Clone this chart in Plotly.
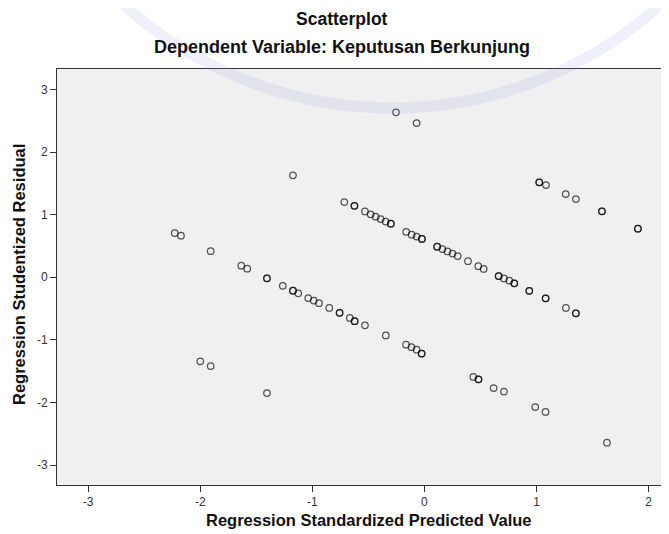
import plotly.graph_objects as go

# Regression Standardized Predicted Value (x) and Studentized Residual (y)
pred_upper = [-0.715, -0.625, -0.625, -0.531, -0.480, -0.435, -0.391, -0.346, -0.300, -0.300,
              -0.163, -0.114, -0.070, -0.023, -0.023, 0.113, 0.113, 0.160, 0.205, 0.250, 0.296,
              0.388, 0.480, 0.528, 0.662, 0.662, 0.709, 0.757, 0.801, 0.801, 0.935, 0.935,
              1.081, 1.081, 1.262, 1.351, 1.351]
resid_upper = [1.200, 1.140, 1.140, 1.050, 1.005, 0.966, 0.930, 0.890, 0.855, 0.855,
               0.725, 0.680, 0.650, 0.612, 0.612, 0.487, 0.487, 0.450, 0.412, 0.378, 0.338,
               0.257, 0.176, 0.133, 0.019, 0.019, -0.020, -0.055, -0.098, -0.098, -0.218, -0.218,
               -0.337, -0.337, -0.490, -0.577, -0.577]

pred_lower = [-2.228, -2.172, -1.907, -1.634, -1.581, -1.405, -1.405, -1.264, -1.173, -1.173,
              -1.126, -1.037, -0.988, -0.941, -0.849, -0.757, -0.757, -0.666, -0.623, -0.623,
              -0.531, -0.345, -0.164, -0.116, -0.070, -0.025, -0.025, 0.436, 0.482, 0.482,
              0.617, 0.709, 0.988, 1.080, 1.628]
resid_lower = [0.706, 0.663, 0.415, 0.184, 0.136, -0.018, -0.018, -0.138, -0.216, -0.216,
               -0.258, -0.332, -0.372, -0.414, -0.490, -0.568, -0.568, -0.650, -0.702, -0.702,
               -0.769, -0.930, -1.078, -1.118, -1.158, -1.220, -1.220, -1.592, -1.631, -1.631,
               -1.770, -1.826, -2.074, -2.151, -2.643]

pred_other = [-0.254, -0.070, -1.173, 1.024, 1.024, 1.084, 1.260, 1.351, 1.583, 1.583,
              1.904, 1.904, -2.000, -1.907, -1.405]
resid_other = [2.634, 2.463, 1.628, 1.516, 1.516, 1.473, 1.329, 1.249, 1.052, 1.052,
               0.775, 0.775, -1.344, -1.419, -1.850]

x_ticks = [-3, -2, -1, 0, 1, 2]
y_ticks = [-3, -2, -1, 0, 1, 2, 3]

title_text = "Scatterplot"
subtitle_text = "Dependent Variable: Keputusan Berkunjung"
x_title = "Regression Standardized Predicted Value"
y_title = "Regression Studentized Residual"

pred = pred_upper + pred_lower + pred_other
resid = resid_upper + resid_lower + resid_other

FONT = "Arial, Liberation Sans, sans-serif"

# page has an 8px body margin; figure coordinates = page coordinates - 8
L, T, B = 49, 61, 57
PW = 669 - L          # plot width in px (extends past the window edge)
PH = 534 - T - B      # plot height in px
X0 = 57               # page x of plot left edge
Y0 = 69               # page y of plot top edge


def px(page_x):
    return (page_x - X0) / PW


def py(page_y):
    return 1 - (page_y - Y0) / PH


fig = go.Figure()

# faint watermark ring (background seal of the source page)
cx, cy, R = 392, -292, 400
fig.add_shape(type="circle", xref="paper", yref="paper", layer="above",
              x0=px(cx - R), x1=px(cx + R), y0=py(cy + R), y1=py(cy - R),
              line=dict(color="rgba(140,140,225,0.13)", width=11),
              fillcolor="rgba(0,0,0,0)")

fig.add_trace(go.Scatter(
    x=pred, y=resid, mode="markers",
    marker=dict(symbol="circle-open", size=6.5, color="rgba(0,0,0,0.66)",
                line=dict(width=1.25, color="rgba(0,0,0,0.66)")),
    hoverinfo="x+y", showlegend=False,
))

fig.update_layout(
    width=669, height=534,
    margin=dict(l=L, r=0, t=T, b=B),
    paper_bgcolor="white",
    plot_bgcolor="#f0f0f0",
    font=dict(family=FONT, size=12, color="#333333"),
    showlegend=False,
)
fig.update_xaxes(
    range=[-3.278, -3.278 + PW / 112.1], tickvals=x_ticks, ticktext=[str(v) for v in x_ticks],
    showgrid=False, zeroline=False, showline=True, linecolor="#333333", linewidth=1,
    mirror=True, ticks="outside", ticklen=6, tickcolor="#333333", tickwidth=1,
    tickfont=dict(size=12, color="#333333", family=FONT),
)
fig.update_yaxes(
    range=[-3.319, 3.326], tickvals=y_ticks, ticktext=[str(v) for v in y_ticks],
    showgrid=False, zeroline=False, showline=True, linecolor="#333333", linewidth=1,
    mirror=False, ticks="outside", ticklen=6, tickcolor="#333333", tickwidth=1,
    tickfont=dict(size=12, color="#333333", family=FONT),
)

fig.add_annotation(text="<b>" + title_text + "</b>", xref="paper", yref="paper",
                   x=px(342), y=py(19), xanchor="center", yanchor="middle",
                   showarrow=False, font=dict(size=17.5, color="#111111", family=FONT))
fig.add_annotation(text="<b>" + subtitle_text + "</b>", xref="paper", yref="paper",
                   x=px(342), y=py(47), xanchor="center", yanchor="middle",
                   showarrow=False, font=dict(size=18, color="#111111", family=FONT))
fig.add_annotation(text="<b>" + x_title + "</b>", xref="paper", yref="paper",
                   x=px(369), y=py(520), xanchor="center", yanchor="middle",
                   showarrow=False, font=dict(size=16.5, color="#111111", family=FONT))
fig.add_annotation(text="<b>" + y_title + "</b>", xref="paper", yref="paper",
                   x=px(19), y=py(275), xanchor="center", yanchor="middle",
                   textangle=-90, showarrow=False, font=dict(size=16.5, color="#111111", family=FONT))

fig.write_html("out.html")
